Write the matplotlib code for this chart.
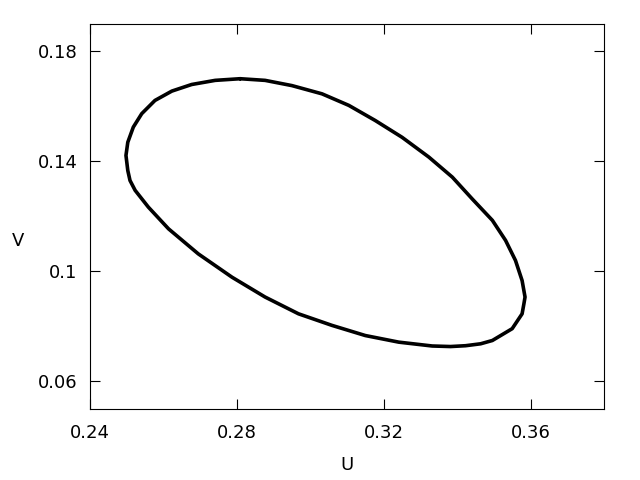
import matplotlib
matplotlib.use("Agg")
import matplotlib.pyplot as plt

u = [0.2809, 0.2877, 0.2950, 0.3032, 0.3105, 0.3177, 0.3250, 0.3323, 0.3387,
     0.3441, 0.3496, 0.3532, 0.3559, 0.3577, 0.3585, 0.3582, 0.3577, 0.3550,
     0.3496, 0.3464, 0.3423, 0.3382, 0.3332, 0.3241, 0.3150, 0.3059, 0.2968,
     0.2877, 0.2787, 0.2695, 0.2614, 0.2559, 0.2523, 0.2509, 0.2503, 0.2498,
     0.2503, 0.2518, 0.2541, 0.2577, 0.2623, 0.2677, 0.2741, 0.2809]
v = [0.1701, 0.1695, 0.1676, 0.1646, 0.1604, 0.1549, 0.1488, 0.1416, 0.1343,
     0.1264, 0.1186, 0.1113, 0.1040, 0.0967, 0.0907, 0.0883, 0.0846, 0.0792,
     0.0749, 0.0737, 0.0730, 0.0727, 0.0729, 0.0743, 0.0767, 0.0804, 0.0846,
     0.0907, 0.0979, 0.1064, 0.1155, 0.1234, 0.1295, 0.1331, 0.1367, 0.1422,
     0.1470, 0.1525, 0.1574, 0.1622, 0.1656, 0.1680, 0.1695, 0.1701]

xticks = [0.24, 0.28, 0.32, 0.36]
xticklabels = ["0.24", "0.28", "0.32", "0.36"]
yticks = [0.06, 0.1, 0.14, 0.18]
yticklabels = ["0.06", "0.1", "0.14", "0.18"]

fig = plt.figure(figsize=(6.4, 4.8), dpi=100)
ax = fig.add_axes([0.1406, 0.148, 0.8031, 0.802])

ax.plot(u, v, color="black", linewidth=2.6,
        solid_joinstyle="round", solid_capstyle="round")

ax.set_xlim(0.24, 0.38)
ax.set_ylim(0.05, 0.19)
ax.set_xticks(xticks)
ax.set_xticklabels(xticklabels)
ax.set_yticks(yticks)
ax.set_yticklabels(yticklabels)
ax.tick_params(direction="in", length=7, width=0.8, top=True, right=True,
               labelsize=13)
ax.tick_params(axis="x", pad=11)
ax.tick_params(axis="y", pad=9)
for s in ax.spines.values():
    s.set_linewidth(0.8)

ax.set_xlabel("U", fontsize=13, labelpad=10)
ax.set_ylabel("V", fontsize=13, rotation=0, labelpad=0)
ax.yaxis.set_label_coords(-0.14, 0.414)

fig.savefig("out.png", dpi=100)
